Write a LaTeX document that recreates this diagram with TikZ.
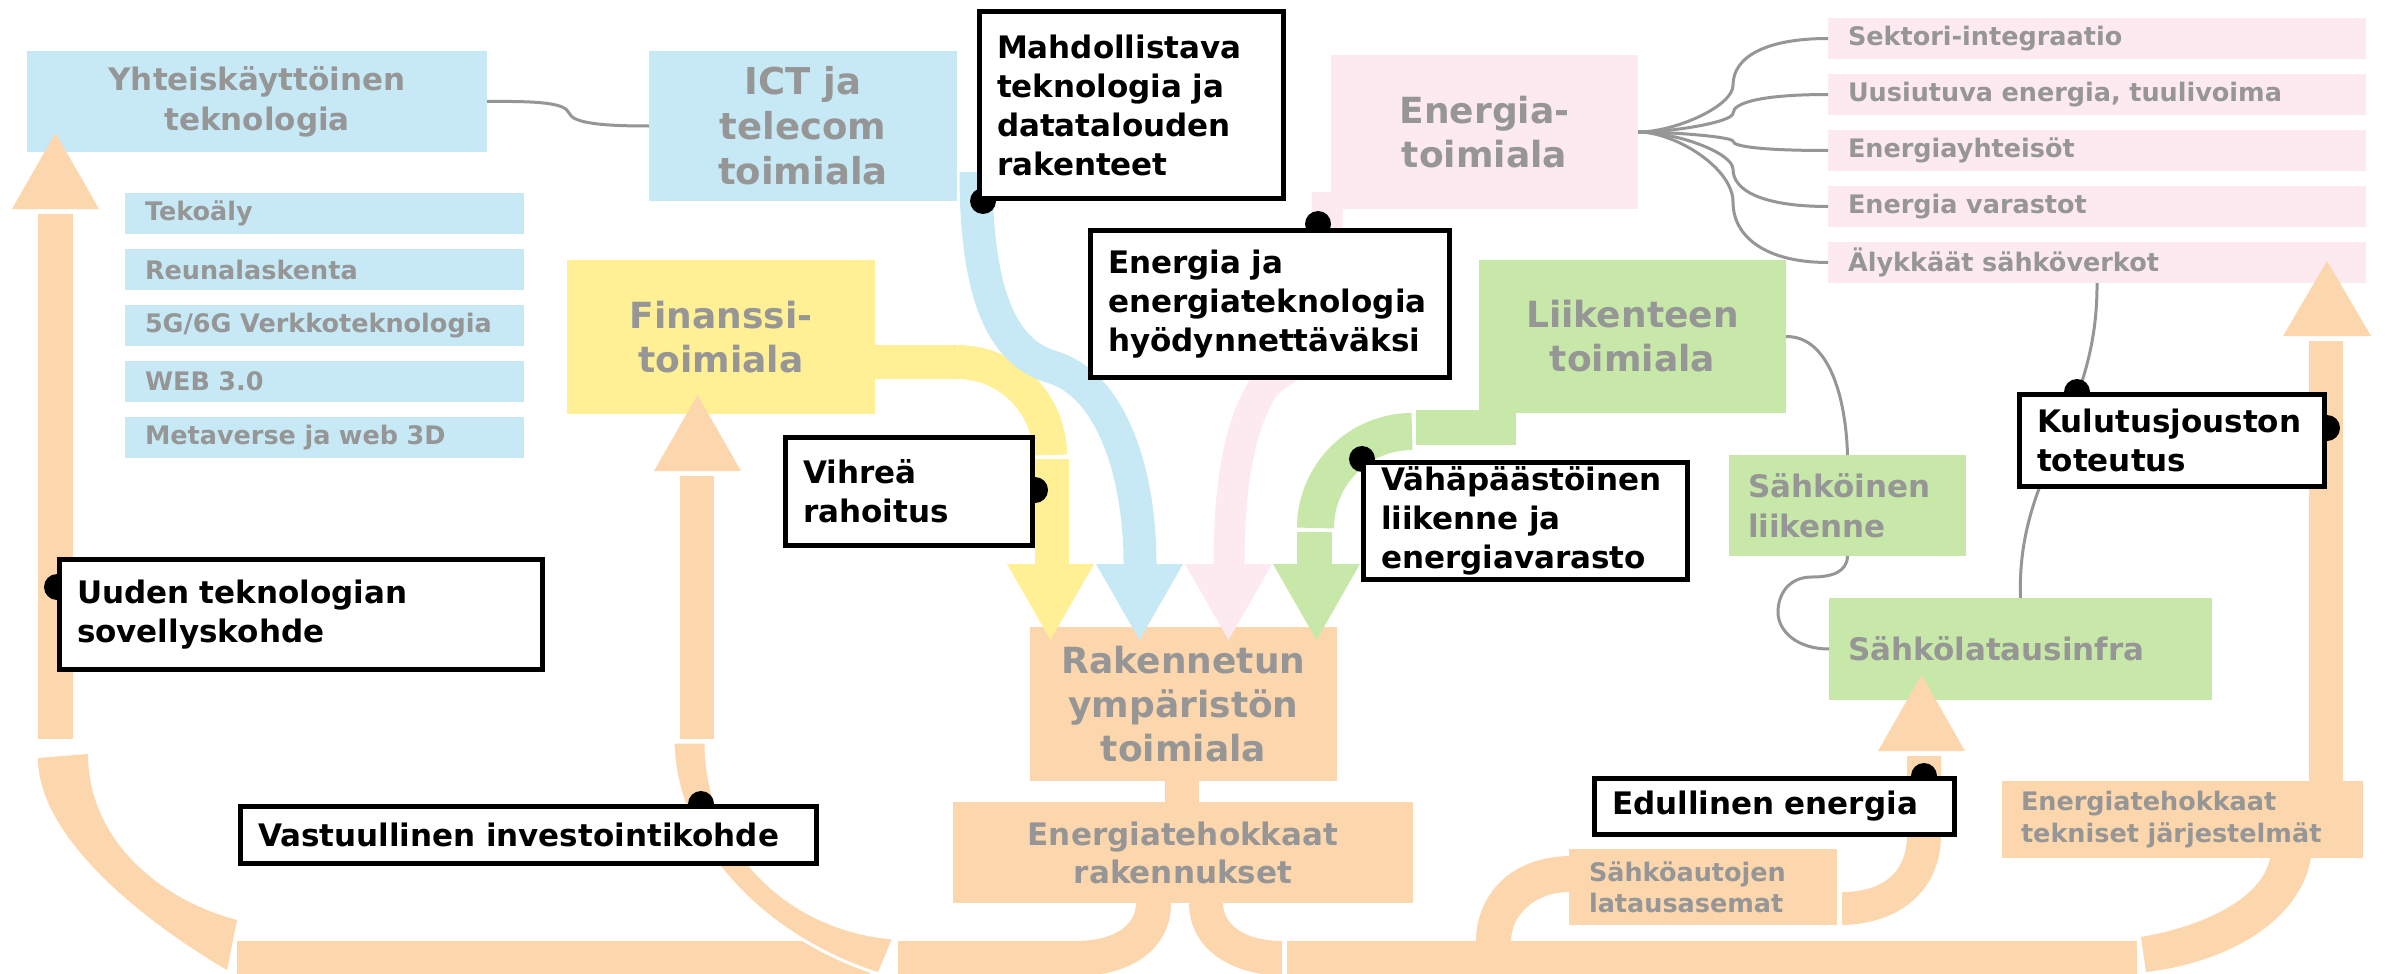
\documentclass[tikz,border=0pt]{standalone}
\usepackage{fontspec}
\setmainfont{DejaVu Sans}
\usetikzlibrary{calc}
\pgfdeclarelayer{top}
\pgfsetlayers{main,top}
\definecolor{peach}{RGB}{252,214,172}
\definecolor{lblue}{RGB}{198,233,245}
\definecolor{lyellow}{RGB}{255,240,150}
\definecolor{lpink}{RGB}{253,234,240}
\definecolor{lgreen}{RGB}{199,232,169}
\definecolor{txtgray}{RGB}{150,150,150}
\definecolor{linegray}{RGB}{150,150,150}
\begin{document}
\begin{tikzpicture}[x=1pt,y=-1pt,
  cbox/.style={inner sep=0pt, outer sep=0pt, anchor=north west, text=txtgray},
  fbig/.style={font=\bfseries\fontsize{36}{44}\selectfont, align=center},
  fmid/.style={font=\bfseries\fontsize{31}{40}\selectfont},
  fsml/.style={font=\bfseries\fontsize{25.5}{31}\selectfont},
  lbl/.style={draw=black, line width=5pt, fill=white, inner ysep=0pt, inner xsep=17.5pt, anchor=north west, align=left, text=black, font=\bfseries\fontsize{31}{39}\selectfont},
  con/.style={draw=linegray, line width=3pt},
  dotc/.style={fill=black}]
\useasboundingbox (0,0) rectangle (2385,974);
\clip (0,0) rectangle (2385,974);
\fill[white] (0,0) rectangle (2385,974);

% ---------- coloured boxes ----------
\node[cbox, fill=lblue, fmid, align=center, minimum width=460pt, minimum height=101pt] (yht) at (27,51) {Yhteiskäyttöinen\\teknologia};
\node[cbox, fill=lblue, font=\bfseries\fontsize{37}{45}\selectfont, align=center, minimum width=308pt, minimum height=150pt] (ict) at (649,51) {ICT ja\\telecom\\toimiala};
\node[cbox, fill=lblue, fsml, align=left, text width=359pt, inner xsep=20pt, minimum height=41pt] (t1) at (125,193) {Tekoäly};
\node[cbox, fill=lblue, fsml, align=left, text width=359pt, inner xsep=20pt, minimum height=41pt] (t2) at (125,249) {Reunalaskenta};
\node[cbox, fill=lblue, fsml, align=left, text width=359pt, inner xsep=20pt, minimum height=41pt] (t3) at (125,305) {5G/6G Verkkoteknologia};
\node[cbox, fill=lblue, fsml, align=left, text width=359pt, inner xsep=20pt, minimum height=41pt] (t4) at (125,361) {WEB 3.0};
\node[cbox, fill=lblue, fsml, align=left, text width=359pt, inner xsep=20pt, minimum height=41pt] (t5) at (125,417) {Metaverse ja web 3D};

\node[cbox, fill=lyellow, fbig, minimum width=308pt, minimum height=154pt] (fin) at (567,260) {Finanssi-\\toimiala};

\node[cbox, fill=lpink, fbig, minimum width=307pt, minimum height=154pt] (ene) at (1331,55) {Energia-\\toimiala};
\node[cbox, fill=lpink, fsml, align=left, text width=498pt, inner xsep=20pt, minimum height=41pt] (p1) at (1828,18) {Sektori-integraatio};
\node[cbox, fill=lpink, fsml, align=left, text width=498pt, inner xsep=20pt, minimum height=41pt] (p2) at (1828,74) {Uusiutuva energia, tuulivoima};
\node[cbox, fill=lpink, fsml, align=left, text width=498pt, inner xsep=20pt, minimum height=41pt] (p3) at (1828,130) {Energiayhteisöt};
\node[cbox, fill=lpink, fsml, align=left, text width=498pt, inner xsep=20pt, minimum height=41pt] (p4) at (1828,186) {Energia varastot};
\node[cbox, fill=lpink, fsml, align=left, text width=498pt, inner xsep=20pt, minimum height=41pt] (p5) at (1828,242) {Älykkäät sähköverkot};

\node[cbox, fill=lgreen, fbig, minimum width=307pt, minimum height=153pt] (lii) at (1479,260) {Liikenteen\\toimiala};
\node[cbox, fill=lgreen, fmid, align=left, text width=199pt, inner xsep=19pt, minimum height=101pt] (sli) at (1729,455) {Sähköinen\\liikenne};
\node[cbox, fill=lgreen, fmid, align=left, text width=345pt, inner xsep=19pt, minimum height=102pt] (sla) at (1829,598) {Sähkölatausinfra};

\node[cbox, fill=peach, fbig, minimum width=307pt, minimum height=154pt] (rak) at (1030,627) {Rakennetun\\ympäristön\\toimiala};
\node[cbox, fill=peach, font=\bfseries\fontsize{31}{38}\selectfont, align=center, minimum width=460pt, minimum height=101pt] (erak) at (953,802) {Energiatehokkaat\\rakennukset};
\node[cbox, fill=peach, fsml, align=left, text width=228pt, inner xsep=20pt, minimum height=76pt] (sau) at (1569,849) {Sähköautojen\\latausasemat};
\node[cbox, fill=peach, font=\bfseries\fontsize{25.5}{32}\selectfont, align=left, text width=323pt, inner xsep=19pt, minimum height=77pt] (etj) at (2002,781) {Energiatehokkaat\\tekniset järjestelmät};
\fill[peach] (1165,780) rectangle (1199,803);

% ---------- grey connectors ----------
\draw[con] (yht.east) .. controls (540,101) and (565,103) .. (569,113) .. controls (573,123) and (600,126) .. (ict.west);
\draw[con] (ene.east) .. controls (1675,132) and (1733,106.3) .. (1733,85.25) .. controls (1733,57.2) and (1765,38.5) .. (p1.west);
\draw[con] (ene.east) .. controls (1675,132) and (1733,121.7) .. (1733,113.25) .. controls (1733,102) and (1765,94.5) .. (p2.west);
\draw[con] (ene.east) .. controls (1675,132) and (1733,137.1) .. (1733,141.25) .. controls (1733,146.8) and (1765,150.5) .. (p3.west);
\draw[con] (ene.east) .. controls (1675,132) and (1733,152.5) .. (1733,169.25) .. controls (1733,191.6) and (1765,206.5) .. (p4.west);
\draw[con] (ene.east) .. controls (1675,132) and (1733,167.9) .. (1733,202) .. controls (1733,236.4) and (1765,262.5) .. (p5.west);
\draw[con] (lii.east) .. controls (1830,336) and (1846,400) .. (sli.north);
\draw[con] (sli.south) .. controls (1847,572) and (1832,577) .. (1812,577) .. controls (1788,577) and (1778,595) .. (1778,612) .. controls (1778,632) and (1798,649) .. (sla.west);
\draw[con] (p5.south) .. controls (2098,420) and (2016,470) .. (sla.north);

% ---------- coloured bands into the built environment ----------
\fill[lyellow] (875,345) rectangle (957,379);
\draw[lyellow, line width=34pt] (957,362) .. controls (1008.4,362) and (1050,403.6) .. (1050,455);
\fill[lyellow] (1035,459) rectangle (1069,564);
\draw[lblue, line width=33pt] (976,172) .. controls (976,290) and (1000,352) .. (1052,367) .. controls (1110,384) and (1140,470) .. (1140,564);
\draw[lpink, line width=31pt] (1327,192) -- (1327,300) .. controls (1327,360) and (1290,360) .. (1265,385) .. controls (1238,425) and (1229,490) .. (1229,564);
\fill[lgreen] (1416,410) rectangle (1516,445);
\draw[lgreen, line width=37pt] (1412,431.5) .. controls (1358.7,431.5) and (1315.5,474.7) .. (1315.5,528);
\fill[lgreen] (1297,532) rectangle (1332,564);
\fill[lyellow] (1007,564) -- (1094,564) -- (1050.5,640) -- cycle;
\fill[lblue] (1096,564) -- (1183,564) -- (1139.5,640) -- cycle;
\fill[lpink] (1185,564) -- (1272,564) -- (1228.5,640) -- cycle;
\fill[lgreen] (1273,564) -- (1360,564) -- (1316.5,640) -- cycle;

% ---------- peach flow ----------
\fill[peach] (38,214) rectangle (73,739);
\fill[peach] (12,209) -- (99,209) -- (55.5,133) -- cycle;
\fill[peach] (38,758) .. controls (38,840) and (150,925) .. (227,970) -- (237,920) .. controls (160,900) and (88,840) .. (88,754) -- cycle;
\fill[peach] (237,941) rectangle (870,990);
\fill[peach] (680,476) rectangle (714,739);
\fill[peach] (654,471) -- (741,471) -- (697.5,395) -- cycle;
\filldraw[fill=peach, draw=white, line width=3pt] (673,742) .. controls (675,850) and (770,940) .. (879,974) -- (894,938) .. controls (790,930) and (706,850) .. (706,742) -- cycle;
\fill[peach] (898,941) -- (1075,941) .. controls (1115,941) and (1136,925) .. (1136,903) -- (1171,903) .. controls (1171,950) and (1130,975) .. (1080,976) -- (1080,990) -- (898,990) -- cycle;
\fill[peach] (1189,903) -- (1223,903) .. controls (1223,925) and (1245,941) .. (1282,941) -- (1282,976) .. controls (1225,974) and (1189,945) .. (1189,903) -- cycle;
\fill[peach] (1287,941) rectangle (2137,990);
\fill[peach] (1476,941) .. controls (1476,905) and (1500,858) .. (1569,856) -- (1569,892) .. controls (1535,892) and (1511,915) .. (1511,941) -- cycle;
\fill[peach] (1842,892) .. controls (1880,892) and (1907,875) .. (1907,835) -- (1907,756) -- (1941,756) -- (1941,835) .. controls (1941,890) and (1900,924) .. (1842,925) -- cycle;
\fill[peach] (1878,751) -- (1965,751) -- (1921.5,675) -- cycle;
\fill[peach] (2270,858) -- (2311,858) .. controls (2300,920) and (2230,962) .. (2146,972) -- (2141,937) .. controls (2200,927) and (2262,900) .. (2270,858) -- cycle;
\fill[peach] (2309,341) rectangle (2343,782);
\fill[peach] (2283,336) -- (2371,336) -- (2327,261) -- cycle;

% ---------- labels (top layer) ----------
\begin{pgfonlayer}{top}
\node[lbl, minimum width=304pt, minimum height=187pt, text width=269pt] (mah) at (977,9) {Mahdollistava\\teknologia ja\\datatalouden\\rakenteet};
\node[lbl, minimum width=359pt, minimum height=147pt, text width=324pt] (eja) at (1088,228) {Energia ja\\energiateknologia\\hyödynnettäväksi};
\node[lbl, minimum width=247pt, minimum height=108pt, text width=212pt] (vih) at (783,435) {Vihreä\\rahoitus};
\node[lbl, minimum width=324pt, minimum height=117pt, text width=289pt] (vah) at (1361,460) {Vähäpäästöinen\\liikenne ja\\energiavarasto};
\node[lbl, minimum width=483pt, minimum height=110pt, text width=448pt] (uud) at (57,557) {Uuden teknologian\\sovellyskohde};
\node[lbl, minimum width=576pt, minimum height=57pt, text width=541pt] (vas) at (238,804) {Vastuullinen investointikohde};
\node[lbl, minimum width=360pt, minimum height=56pt, text width=325pt] (edu) at (1592,776) {Edullinen energia};
\node[lbl, minimum width=305pt, minimum height=92pt, text width=270pt] (kul) at (2017,392) {Kulutusjouston\\toteutus};
\end{pgfonlayer}

% ---------- attachment dots (below the labels) ----------
\fill[dotc] ($(mah.south west)+(6,0)$) circle (13pt);
\fill[dotc] ($(eja.north west)+(230,-4)$) circle (13pt);
\fill[dotc] ($(vih.north east)+(0,55)$) circle (13pt);
\fill[dotc] ($(vah.north west)+(1,-1)$) circle (13pt);
\fill[dotc] ($(uud.north west)+(0,30)$) circle (13pt);
\fill[dotc] ($(vas.north west)+(463,0)$) circle (13pt);
\fill[dotc] ($(edu.north west)+(332,0)$) circle (13pt);
\fill[dotc] ($(kul.north west)+(60,0)$) circle (13pt);
\fill[dotc] ($(kul.north east)+(0,36)$) circle (13pt);
\end{tikzpicture}
\end{document}
